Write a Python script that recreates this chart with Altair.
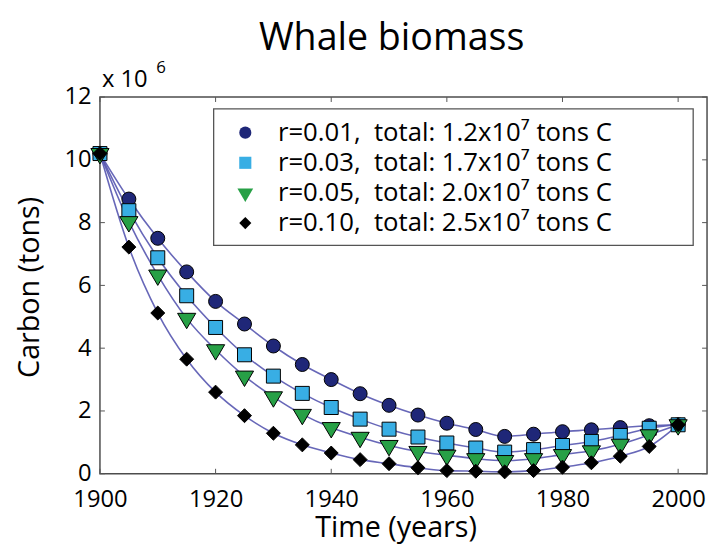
import altair as alt
import pandas as pd

years = list(range(1900, 2001, 5))
labels = [
    "r=0.01,\u00a0\u00a0total: 1.2x10\u2077 tons C",
    "r=0.03,\u00a0\u00a0total: 1.7x10\u2077 tons C",
    "r=0.05,\u00a0\u00a0total: 2.0x10\u2077 tons C",
    "r=0.10,\u00a0\u00a0total: 2.5x10\u2077 tons C",
]
r001 = [10.2, 8.75, 7.50, 6.43, 5.49, 4.77, 4.07, 3.48, 3.00, 2.55, 2.18, 1.87, 1.61, 1.41, 1.19, 1.26, 1.34, 1.40, 1.47, 1.53, 1.56]
r003 = [10.2, 8.38, 6.88, 5.67, 4.66, 3.79, 3.11, 2.56, 2.11, 1.74, 1.42, 1.17, 0.98, 0.82, 0.69, 0.77, 0.90, 1.03, 1.22, 1.45, 1.56]
r005 = [10.2, 8.03, 6.33, 4.95, 3.95, 3.11, 2.45, 1.89, 1.47, 1.16, 0.90, 0.71, 0.59, 0.48, 0.42, 0.48, 0.61, 0.73, 0.94, 1.24, 1.56]
r010 = [10.2, 7.22, 5.12, 3.65, 2.60, 1.85, 1.29, 0.92, 0.66, 0.45, 0.32, 0.19, 0.10, 0.08, 0.06, 0.10, 0.21, 0.35, 0.56, 0.87, 1.56]
series_values = [r001, r003, r005, r010]
tri_down = "M-1.3,-0.72L1.3,-0.72L0,1.48Z"
shapes = ["circle", "square", tri_down, "diamond"]
fills = ["#1f2778", "#38aee4", "#27a046", "#000000"]

x_ticks = [1900, 1920, 1940, 1960, 1980, 2000]
y_ticks = [0, 2, 4, 6, 8, 10, 12]

rows = []
for k, (lab, vals) in enumerate(zip(labels, series_values)):
    for yr, v in zip(years, vals):
        rows.append({"series": lab, "year": yr, "carbon": v, "k": k})
df = pd.DataFrame(rows)

W, H = 614, 381
FONT = "Open Sans"

xscale = alt.Scale(domain=[1900, 2005], nice=False, zero=False)
yscale = alt.Scale(domain=[0, 12], nice=False)

leg = alt.Legend(
    title=None, orient="none", legendX=134, legendY=23, padding=0,
    labelFont=FONT, labelFontSize=26, labelColor="black", labelLimit=700,
    symbolSize=150, symbolStrokeColor="black", symbolStrokeWidth=1,
    labelOffset=20, rowPadding=4.5,
)

base = alt.Chart(df)

lines = base.mark_line(interpolate="monotone", color="#5656b0", strokeWidth=1.6, opacity=0.9).encode(
    x=alt.X("year:Q", scale=xscale,
            axis=alt.Axis(values=x_ticks, title="Time (years)", labelPadding=14,
                          labelFlush=False, format="d", titleX=299, titleY=63,
                          titleBaseline="alphabetic")),
    y=alt.Y("carbon:Q", scale=yscale,
            axis=alt.Axis(values=y_ticks, title="Carbon (tons)", labelPadding=9,
                          labelFlush=False, titleX=-71, titleY=192,
                          titleBaseline="middle", titleAlign="center")),
    detail="series:N",
)

box = alt.Chart(pd.DataFrame({"a": [0]})).mark_rect(
    fill="white", fillOpacity=0, stroke="#555555", strokeWidth=1.3
).encode(x=alt.value(115), x2=alt.value(600), y=alt.value(12), y2=alt.value(150))

points = base.mark_point(filled=True, stroke="black", strokeWidth=1, opacity=1, size=200).encode(
    x="year:Q",
    y="carbon:Q",
    shape=alt.Shape("series:N", scale=alt.Scale(domain=labels, range=shapes), legend=leg),
    fill=alt.Fill("series:N", scale=alt.Scale(domain=labels, range=fills), legend=leg),
    order="k:Q",
)

xt = pd.DataFrame({"t": x_ticks})
yt = pd.DataFrame({"t": y_ticks})
tick_color = "#555555"
xt_bottom = alt.Chart(xt).mark_rule(color=tick_color).encode(x="t:Q", y=alt.value(H), y2=alt.value(H - 5))
xt_top = alt.Chart(xt).mark_rule(color=tick_color).encode(x="t:Q", y=alt.value(0), y2=alt.value(5))
yt_left = alt.Chart(yt).mark_rule(color=tick_color).encode(y="t:Q", x=alt.value(0), x2=alt.value(5))
yt_right = alt.Chart(yt).mark_rule(color=tick_color).encode(y="t:Q", x=alt.value(W), x2=alt.value(W - 5))

exp_base = alt.Chart(pd.DataFrame({"t": ["x 10"]})).mark_text(
    font=FONT, fontSize=24, align="left", baseline="alphabetic", color="black"
).encode(text="t:N", x=alt.value(2), y=alt.value(-10))
exp_pow = alt.Chart(pd.DataFrame({"t": ["6"]})).mark_text(
    font=FONT, fontSize=17, align="left", baseline="alphabetic", color="black"
).encode(text="t:N", x=alt.value(57), y=alt.value(-24))

chart = alt.layer(
    lines, xt_bottom, xt_top, yt_left, yt_right, box, points, exp_base, exp_pow
).properties(
    width=W, height=H,
    title=alt.TitleParams("Whale biomass", font=FONT, fontSize=38, fontWeight="normal",
                          anchor="middle", dx=-12, offset=2, color="black"),
    autosize=alt.AutoSizeParams(type="none"),
    padding={"left": 93, "top": 87, "right": 3, "bottom": 69},
    background="white",
).configure_view(
    stroke="#4d4d4d", strokeWidth=1.5
).configure_axis(
    labelFont=FONT, labelFontSize=24, labelColor="black",
    titleFont=FONT, titleFontSize=29, titleFontWeight="normal", titleColor="black",
    grid=False, ticks=False, domain=False,
)

chart.save("out.html", embed_options={"renderer": "svg", "actions": False})
